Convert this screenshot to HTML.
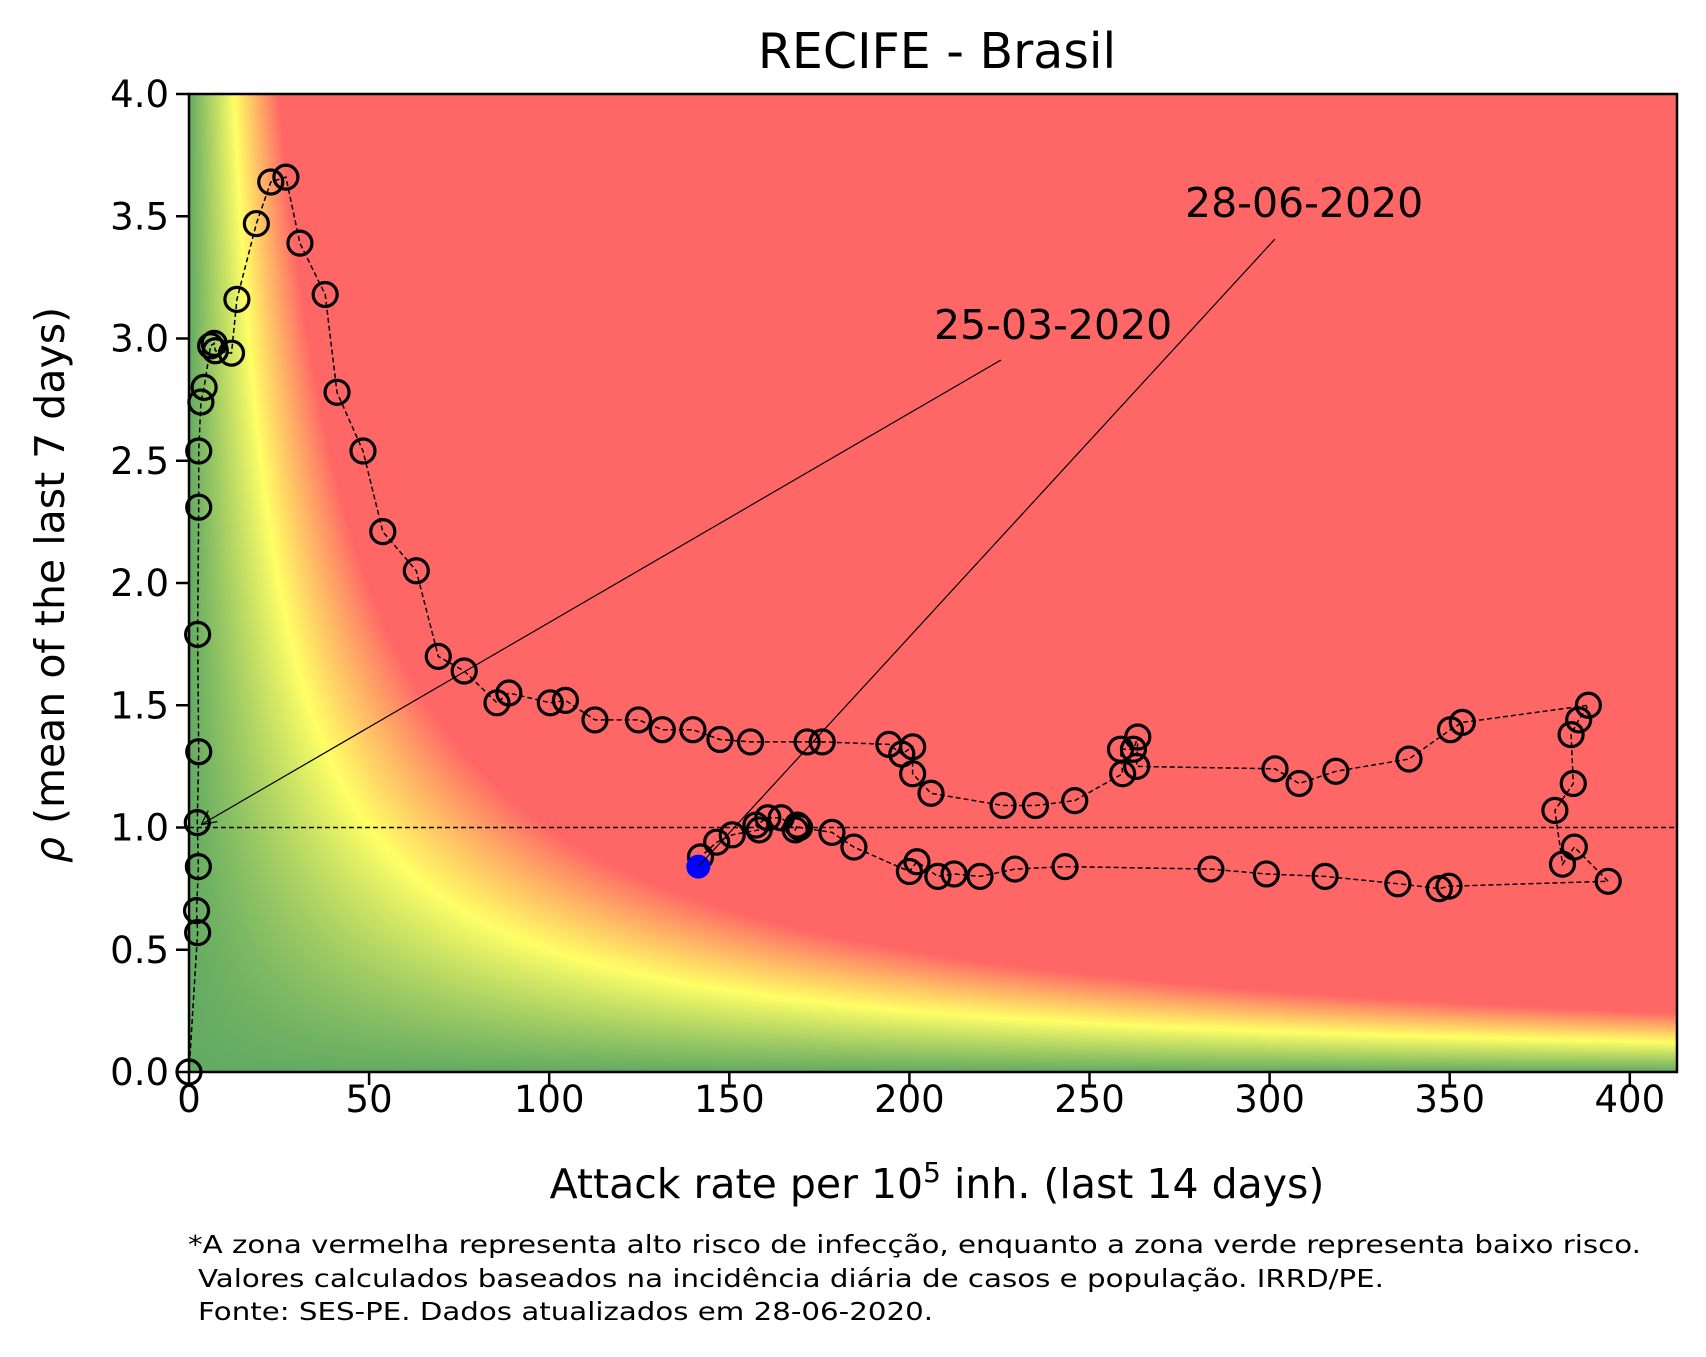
<!DOCTYPE html>
<html><head><meta charset="utf-8">
<style>
html,body{margin:0;padding:0;background:#fff;}
svg{display:block;font-family:"DejaVu Sans","Liberation Sans",sans-serif;}
</style></head>
<body>
<svg id="chart" width="1706" height="1357" viewBox="0 0 1706 1357" xmlns="http://www.w3.org/2000/svg">
  <foreignObject x="189" y="94" width="1488" height="978">
    <canvas id="bg" width="1488" height="978" style="display:block" xmlns="http://www.w3.org/1999/xhtml"></canvas>
  </foreignObject>
  <g id="plot"></g>
  <text x="937" y="68" font-size="49" text-anchor="middle">RECIFE - Brasil</text>
  <text x="937" y="1198" font-size="41" text-anchor="middle">Attack rate per 10<tspan font-size="28" dy="-16">5</tspan><tspan dy="16"> inh. (last 14 days)</tspan></text>
  <text transform="translate(64,585) rotate(-90)" font-size="41" text-anchor="middle"><tspan font-style="italic">ρ</tspan> (mean of the last 7 days)</text>
  <text x="188" y="1253" font-size="24.5" textLength="1453" lengthAdjust="spacingAndGlyphs">*A zona vermelha representa alto risco de infecção, enquanto a zona verde representa baixo risco.</text>
  <text x="198" y="1287" font-size="24.5" textLength="1186" lengthAdjust="spacingAndGlyphs">Valores calculados baseados na incidência diária de casos e população. IRRD/PE.</text>
  <text x="198" y="1320" font-size="24.5" textLength="735" lengthAdjust="spacingAndGlyphs">Fonte: SES-PE. Dados atualizados em 28-06-2020.</text>
</svg>
<script>
const xs=[0,2.4,2.1,2.6,2.3,2.7,2.4,2.7,2.7,3.3,4.2,6,7,7.3,11.8,13.3,18.7,22.7,26.9,30.8,37.8,41.1,48.3,53.8,63.1,69.2,76.4,85.5,88.8,100.3,104.5,112.7,124.8,131.4,139.9,147.4,155.9,171.6,175.8,194.3,197.9,200.9,200.9,206,226,235,245.9,259.2,258.6,262.2,263.4,263.1,301.5,308.2,318.4,338.7,350.2,353.5,388.5,385.8,383.7,384.3,379.2,381.3,384.6,394,349.8,347.1,335.6,315.4,299.1,283.7,243.2,229.3,219.6,212.4,207.9,202.1,200,184.6,178.5,169.5,168.9,168.3,164.4,160.7,157.4,158.3,150.8,146.5,142];
const rhos=[0,0.57,0.66,0.84,1.02,1.31,1.79,2.31,2.54,2.74,2.80,2.97,2.98,2.95,2.94,3.16,3.47,3.64,3.66,3.39,3.18,2.78,2.54,2.21,2.05,1.70,1.64,1.51,1.55,1.51,1.52,1.44,1.44,1.40,1.40,1.36,1.35,1.35,1.35,1.34,1.30,1.33,1.22,1.14,1.09,1.09,1.11,1.22,1.32,1.32,1.37,1.25,1.24,1.18,1.23,1.28,1.40,1.43,1.50,1.44,1.38,1.18,1.07,0.85,0.92,0.78,0.76,0.75,0.77,0.80,0.81,0.83,0.84,0.83,0.80,0.81,0.80,0.86,0.82,0.92,0.98,1.00,1.01,0.99,1.04,1.04,1.01,0.99,0.97,0.94,0.88];
const lastPoint=[141.4,0.84];
const xTicks=[0,50,100,150,200,250,300,350,400];
const yTicks=[0,0.5,1.0,1.5,2.0,2.5,3.0,3.5,4.0];
const yTickLabels=["0.0","0.5","1.0","1.5","2.0","2.5","3.0","3.5","4.0"];
const annFirst=[2.3,1.02];
const annLabels=["25-03-2020","28-06-2020"];

const L=189,R=1677,T=94,B=1072,XMAX=413.1,YMAX=4;
const sx=v=>L+v/XMAX*(R-L);
const sy=v=>B-v/YMAX*(B-T);
const NS="http://www.w3.org/2000/svg";
const plot=document.getElementById('plot');
function mk(tag,attrs,parent){const e=document.createElementNS(NS,tag);for(const k in attrs)e.setAttribute(k,attrs[k]);(parent||plot).appendChild(e);return e;}

const cv=document.getElementById('bg');const ctx=cv.getContext('2d');
const W=cv.width,H=cv.height;const img=ctx.createImageData(W,H);
const G=[99,171,98],Y=[255,255,102],Rd=[255,102,102];
for(let j=0;j<H;j++){const rho=(B-(T+j+0.5))/(B-T)*YMAX;
 for(let i=0;i<W;i++){const x=(i+0.5)/(R-L)*XMAX;let v=x*rho;let c;
  if(v<=50){const t=v/50;c=[G[0]+(Y[0]-G[0])*t,G[1]+(Y[1]-G[1])*t,G[2]+(Y[2]-G[2])*t];}
  else{const t=Math.min(1,(v-50)/50);c=[Y[0]+(Rd[0]-Y[0])*t,Y[1]+(Rd[1]-Y[1])*t,Y[2]+(Rd[2]-Y[2])*t];}
  const p=(j*W+i)*4;img.data[p]=c[0];img.data[p+1]=c[1];img.data[p+2]=c[2];img.data[p+3]=255;}}
ctx.putImageData(img,0,0);

const ref=mk('line',{x1:L,x2:R,y1:sy(1),y2:sy(1),stroke:'#000','stroke-width':1.5,'stroke-dasharray':'5,3'});



let d='';xs.forEach((x,i)=>{d+=(i?'L':'M')+sx(x).toFixed(1)+','+sy(rhos[i]).toFixed(1);});
d+='L'+sx(lastPoint[0]).toFixed(1)+','+sy(lastPoint[1]).toFixed(1);
const pth=mk('path',{d:d,fill:'none',stroke:'#000','stroke-width':1.5,'stroke-dasharray':'5,3'});



xs.forEach((x,i)=>{const c=mk('circle',{cx:sx(x),cy:sy(rhos[i]),r:12,fill:'none',stroke:'#000','stroke-width':3.2});
 
 });
const bp=mk('circle',{cx:sx(lastPoint[0]),cy:sy(lastPoint[1]),r:12,fill:'#0000ff'});



const a1=mk('line',{x1:1001,y1:360,x2:sx(annFirst[0])+4,y2:sy(annFirst[1])+2,stroke:'#000','stroke-width':1.2});


const ah=mk('path',{d:'M'+(sx(annFirst[0])+4)+','+(sy(annFirst[1])+2)+' l16,-3 M'+(sx(annFirst[0])+4)+','+(sy(annFirst[1])+2)+' l7,-14',stroke:'#000','stroke-width':1.2,fill:'none'});


const t1=mk('text',{x:934,y:339,'font-size':41});t1.textContent=annLabels[0];


const a2=mk('line',{x1:1275,y1:239,x2:sx(lastPoint[0]),y2:sy(lastPoint[1]),stroke:'#000','stroke-width':1.2});


const t2=mk('text',{x:1185,y:217,'font-size':41});t2.textContent=annLabels[1];



const fr=mk('rect',{x:L,y:T,width:R-L,height:B-T,fill:'none',stroke:'#000','stroke-width':2.5});



xTicks.forEach(v=>{const tk=mk('line',{x1:sx(v),x2:sx(v),y1:B,y2:B+13,stroke:'#000','stroke-width':2.5});
 
 
 const tl=mk('text',{x:sx(v),y:B+40,'font-size':37,'text-anchor':'middle'});tl.textContent=String(v);
 
 });
yTicks.forEach((v,i)=>{const tk=mk('line',{x1:L-13,x2:L,y1:sy(v),y2:sy(v),stroke:'#000','stroke-width':2.5});
 
 
 const tl=mk('text',{x:L-20,y:sy(v)+13,'font-size':37,'text-anchor':'end'});tl.textContent=yTickLabels[i];
 
 });
</script>
</body></html>
